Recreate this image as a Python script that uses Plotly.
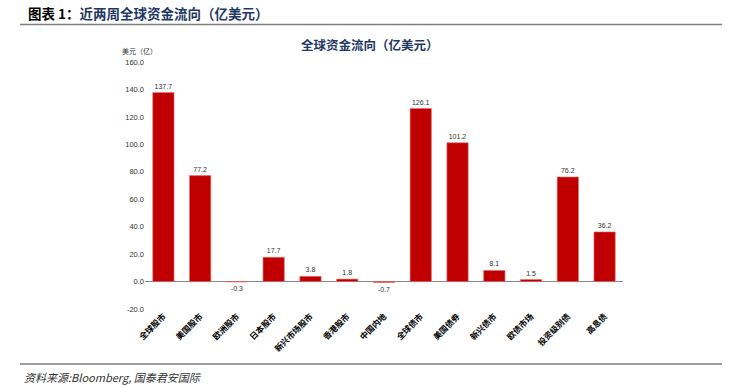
import plotly.graph_objects as go

categories = ["全球股市", "美国股市", "欧洲股市", "日本股市", "新兴市场股市", "香港股市", "中国内地",
              "全球债市", "美国债券", "新兴债市", "欧债市场", "投资级别债", "高息债"]
values = [137.7, 77.2, -0.3, 17.7, 3.8, 1.8, -0.7, 126.1, 101.2, 8.1, 1.5, 76.2, 36.2]
y_ticks = [-20, 0, 20, 40, 60, 80, 100, 120, 140, 160]

W, H = 740, 387
def px(x): return x / W
def py(y): return 1 - y / H

CJK = "Noto Sans CJK SC"

fig = go.Figure(go.Bar(
    x=categories, y=values,
    marker=dict(color="#C00000", line=dict(color="#E57373", width=0.6)),
    width=0.58,
    text=[f"{v:.1f}" for v in values],
    textposition="outside",
    textfont=dict(size=7, color="#333333", family="Liberation Sans"),
    cliponaxis=False,
))

fig.update_layout(
    width=W, height=H,
    margin=dict(l=0, r=0, t=0, b=0, autoexpand=False),
    plot_bgcolor="white", paper_bgcolor="white",
    showlegend=False,
    xaxis=dict(
        domain=[px(145), px(623)],
        tickangle=-45,
        tickfont=dict(size=8.3, color="#000000", family=CJK),
        tickprefix="<b>", ticksuffix="</b>",
        showgrid=False, showline=False, ticks="",
        automargin=False,
        anchor="y",
    ),
    yaxis=dict(
        domain=[py(309), py(62)],
        range=[-20, 160],
        tickvals=y_ticks,
        ticktext=[f"{t:.1f}" for t in y_ticks],
        tickfont=dict(size=7.5, color="#333333", family="Liberation Sans"),
        showgrid=False, zeroline=True, zerolinecolor="#888888", zerolinewidth=1,
        showline=False, ticks="",
        automargin=False,
    ),
    shapes=[
        dict(type="line", xref="paper", yref="paper", x0=px(20), x1=px(722), y0=py(24.5), y1=py(24.5),
             line=dict(color="#7f7f7f", width=1.5)),
        dict(type="line", xref="paper", yref="paper", x0=px(20), x1=px(722), y0=py(364), y1=py(364),
             line=dict(color="#7f7f7f", width=1.5)),
    ],
    annotations=[
        dict(xref="paper", yref="paper", x=px(26), y=py(13), xanchor="left", yanchor="middle",
             text="<b>图表 1：</b><b><span style='color:#1F3864'>近两周全球资金流向（亿美元）</span></b>",
             showarrow=False, font=dict(size=13.5, color="#000000", family=CJK)),
        dict(xref="paper", yref="paper", x=px(370), y=py(44), xanchor="center", yanchor="middle",
             text="<b>全球资金流向（亿美元）</b>",
             showarrow=False, font=dict(size=12.5, color="#1F3864", family=CJK)),
        dict(xref="paper", yref="paper", x=px(120), y=py(51), xanchor="left", yanchor="middle",
             text="美元（亿）",
             showarrow=False, font=dict(size=7, color="#333333", family=CJK)),
        dict(xref="paper", yref="paper", x=px(22), y=py(377), xanchor="left", yanchor="middle",
             text="<i>资料来源:Bloomberg, 国泰君安国际</i>",
             showarrow=False, font=dict(size=11, color="#333333", family=CJK)),
    ],
)

fig.write_html("out.html", config={"displayModeBar": False},
               post_script="document.body.style.margin='0';document.body.style.overflow='hidden';")
